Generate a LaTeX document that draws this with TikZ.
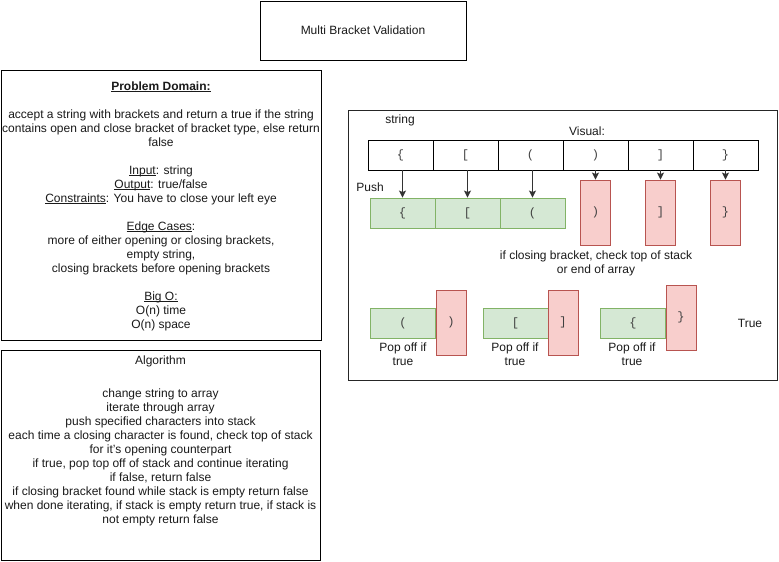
\documentclass[tikz,border=0pt]{standalone}
\usepackage{fontspec}
\setmainfont{Liberation Sans}
\setmonofont{Liberation Mono}
\usetikzlibrary{arrows.meta}
\definecolor{gfill}{HTML}{D5E8D4}
\definecolor{gline}{HTML}{82B366}
\definecolor{rfill}{HTML}{F8CECC}
\definecolor{rline}{HTML}{B85450}
\definecolor{txt}{HTML}{1A1A1A}
\newcommand\myul[1]{\setbox0\hbox{#1}\rlap{\rule[-1.4pt]{\wd0}{0.7pt}}\box0}
\begin{document}
\begin{tikzpicture}[x=1pt,y=-1pt,
  every node/.style={font=\fontsize{12}{14}\selectfont, text=txt, inner sep=0pt},
  frame/.style={draw=black, line width=0.9pt, fill=white},
  cell/.style={draw=black, line width=0.9pt, minimum width=65pt, minimum height=30pt, font=\fontsize{12}{14}\ttfamily, text=black!75},
  gbox/.style={draw=gline, fill=gfill, line width=0.9pt, minimum width=65pt, minimum height=30pt, font=\fontsize{12}{14}\ttfamily, text=black!75},
  rbox/.style={draw=rline, fill=rfill, line width=0.9pt, minimum width=30pt, minimum height=65pt, font=\fontsize{12}{14}\ttfamily, text=black!75},
  arr/.style={draw=black!80, line width=0.9pt, -{Stealth[length=7pt,width=7pt,inset=1.5pt]}},
  lbl/.style={align=center}
]
\useasboundingbox (0,0) rectangle (779,562);
% title
\node[frame, minimum width=206pt, minimum height=59pt] (title) at (363,30.5) {Multi Bracket Validation};
% problem domain
\node[frame, minimum width=320pt, minimum height=270pt] (pd) at (161,205) {};
\node[lbl] (pdtext) at (161,206) {\myul{\textbf{Problem Domain:}}\\[14pt]
accept a string with brackets and return a true if the string\\
contains open and close bracket of bracket type, else return\\
false\\[14pt]
\myul{Input}: string\\
\myul{Output}: true/false\\
\myul{Constraints}: You have to close your left eye\\[14pt]
\myul{Edge Cases}:\\
more of either opening or closing brackets,\\
empty string,\\
closing brackets before opening brackets\\[14pt]
\myul{Big O:}\\
O(n) time\\
O(n) space};
% algorithm
\node[frame, minimum width=319pt, minimum height=210pt] (alg) at (160.5,455) {};
\node (algtitle) at (160.5,361) {Algorithm};
\node[lbl, anchor=north] (algtext) at (160.5,389) {change string to array\\
iterate through array\\
push specified characters into stack\\
each time a closing character is found, check top of stack\\
for it's opening counterpart\\
if true, pop top off of stack and continue iterating\\
if false, return false\\
if closing bracket found while stack is empty return false\\
when done iterating, if stack is empty return true, if stack is\\
not empty return false};
% visual frame
\node[draw=black!85, line width=0.9pt, minimum width=429pt, minimum height=270pt] (vis) at (562.5,245) {};
\node (strlbl) at (400,120) {string};
\node (vislbl) at (587,131) {Visual:};
\node (push) at (370,187) {Push};
% array cells
\node[cell] (c1) at (400.5,155) {\{};
\node[cell] (c2) at (465.5,155) {[};
\node[cell] (c3) at (530.5,155) {(};
\node[cell] (c4) at (595.5,155) {)};
\node[cell] (c5) at (660.5,155) {]};
\node[cell] (c6) at (725.5,155) {\}};
% pushed
\node[gbox] (g1) at (402.5,213) {\{};
\node[gbox] (g2) at (467.5,213) {[};
\node[gbox] (g3) at (532.5,213) {(};
\node[rbox] (r4) at (595.5,212.5) {)};
\node[rbox] (r5) at (660.5,212.5) {]};
\node[rbox] (r6) at (725.5,212.5) {\}};
\draw[arr] (g1.north |- c1.south) -- (g1.north);
\draw[arr] (g2.north |- c2.south) -- (g2.north);
\draw[arr] (g3.north |- c3.south) -- (g3.north);
\draw[arr] (c4.south) -- (r4.north);
\draw[arr] (c5.south) -- (r5.north);
\draw[arr] (c6.south) -- (r6.north);
\node[lbl] (note) at (596,263) {if closing bracket, check top of stack\\or end of array};
% pop pairs
\node[gbox] (pg1) at (403,323) {(};
\node[rbox] (pr1) at (451,322.5) {)};
\node[gbox] (pg2) at (515.5,323) {[};
\node[rbox] (pr2) at (563,322.5) {]};
\node[gbox] (pg3) at (633,323) {\{};
\node[rbox, text depth=0pt] (pr3) at (681,317.5) {\raisebox{3pt}{\}}};
\node[lbl] (pop1) at (403,354.5) {Pop off if\\true};
\node[lbl] (pop2) at (515,354.5) {Pop off if\\true};
\node[lbl] (pop3) at (632,354.5) {Pop off if\\true};
\node (truelbl) at (750,323) {True};
\end{tikzpicture}
\end{document}
